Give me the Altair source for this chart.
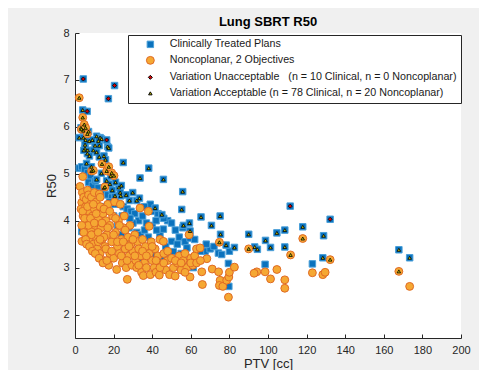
import altair as alt
import pandas as pd

# ---- data ----
clin_plain_ptv = [2.2, 3.5, 5.0, 6.5, 8.0, 7.0, 9.0, 10.5, 12.0, 11.0, 13.5, 15.0, 17.0, 19.0, 18.0, 21.0, 23.0, 25.0, 27.0, 29.0,
                  26.0, 31.0, 33.0, 35.0, 37.0, 30.0, 28.0, 32.0, 34.0, 36.0, 38.0, 40.0, 42.0, 44.0, 45.8, 48.0, 50.0, 52.0, 54.0, 50.0,
                  53.0, 57.0, 59.6, 62.0, 58.0, 63.0, 67.4, 70.0, 74.3, 76.0, 80.0, 45.0, 61.3, 79.5, 79.7, 98.5, 123.0, 22.0, 24.0, 20.0,
                  16.0, 14.0, 12.0, 5.0, 3.5, 8.0, 10.0, 6.0, 39.0, 41.0, 43.0, 36.0, 27.0, 26.0, 30.0, 34.0, 38.0, 40.0, 47.0, 49.0,
                  55.0, 56.0, 65.0, 68.0, 72.0, 42.3, 55.9, 50.9, 46.0, 20.5, 24.5, 28.5, 31.5]
clin_plain_r50 = [5.12, 5.15, 5.10, 5.02, 4.95, 4.82, 4.75, 4.85, 4.70, 4.60, 4.55, 4.60, 4.55, 4.50, 4.40, 4.45, 4.35, 4.30, 4.25, 4.20,
                  4.10, 4.15, 4.00, 4.10, 3.95, 3.95, 3.85, 3.75, 3.70, 3.80, 3.65, 3.90, 4.00, 3.70, 3.82, 4.00, 3.95, 3.80, 3.65, 3.56,
                  3.50, 3.55, 3.63, 3.60, 3.42, 3.38, 3.35, 3.40, 3.31, 3.28, 3.35, 3.20, 3.00, 3.09, 2.60, 3.07, 3.08, 3.90, 3.70, 4.10,
                  4.20, 4.30, 4.00, 3.77, 3.77, 4.40, 4.30, 4.60, 4.35, 4.20, 4.15, 4.30, 3.60, 3.40, 3.30, 3.20, 3.40, 3.25, 3.45, 3.30,
                  3.30, 3.15, 3.35, 3.50, 3.45, 3.80, 3.85, 3.34, 4.05, 4.35, 4.10, 4.05, 3.60]

clin_acc_ptv = [4.0, 3.1, 4.3, 2.2, 4.3, 5.5, 7.4, 5.2, 5.2, 6.6, 6.4, 11.2, 13.0, 13.8, 12.1, 10.4, 9.5, 11.2, 12.6, 15.0,
                16.9, 6.0, 11.2, 13.7, 16.4, 18.1, 18.5, 15.0, 22.8, 20.7, 23.7, 23.4, 25.0, 29.9, 28.2, 32.0, 33.4, 33.7, 38.2, 45.8,
                41.5, 45.0, 55.8, 55.3, 56.2, 59.3, 59.6, 65.3, 70.7, 75.2, 75.4, 78.3, 82.6, 90.0, 93.1, 94.5, 98.7, 101.3, 104.6, 108.7,
                108.7, 118.0, 128.8, 128.4, 167.8, 173.4, 7.5, 4.6, 8.5, 15.8, 17.5, 12.6, 21.0, 24.0, 19.3, 26.5, 7.0, 9.0]
clin_acc_r50 = [6.36, 5.98, 5.92, 5.77, 5.77, 5.72, 5.70, 5.62, 5.54, 5.50, 5.43, 5.80, 5.77, 5.74, 5.70, 5.60, 5.50, 5.46, 5.36, 5.38,
                5.58, 5.22, 4.88, 5.01, 4.85, 4.78, 4.95, 4.70, 4.71, 4.53, 4.53, 4.60, 5.24, 4.60, 4.43, 4.43, 4.48, 4.91, 5.12, 4.88,
                4.27, 4.13, 4.62, 4.24, 3.90, 3.95, 3.78, 4.08, 3.90, 4.10, 3.71, 3.48, 3.43, 3.71, 3.44, 3.39, 3.58, 3.43, 3.74, 3.80,
                3.44, 3.87, 3.68, 3.21, 3.38, 3.21, 5.38, 5.50, 5.15, 5.30, 5.55, 5.60, 4.82, 4.75, 4.65, 4.55, 5.90, 5.72]

clin_unacc_ptv = [4.3, 20.5, 17.3, 6.3, 16.4, 111.5, 132.2]
clin_unacc_r50 = [7.02, 6.88, 6.60, 6.33, 5.72, 4.31, 4.03]

nc_plain_ptv = [2.6, 4.0, 3.5, 3.1, 3.6, 3.8, 4.5, 4.2, 5.0, 5.5, 5.8, 6.0, 6.0, 5.5, 6.5, 7.0, 7.0, 7.2, 7.5, 8.0,
                8.2, 8.5, 9.0, 9.0, 9.5, 10.0, 10.0, 10.5, 11.0, 11.0, 11.5, 12.0, 12.0, 12.6, 13.0, 13.0, 13.5, 14.0, 14.5, 15.0,
                15.5, 16.0, 16.5, 17.0, 17.5, 18.0, 18.0, 19.0, 19.5, 20.0, 20.5, 21.0, 21.6, 22.0, 22.5, 23.0, 23.5, 24.0, 24.5, 25.0,
                25.5, 26.0, 26.5, 27.1, 27.5, 28.0, 28.5, 29.0, 29.5, 30.0, 31.0, 31.5, 32.0, 32.5, 33.0, 33.7, 34.0, 34.5, 35.0, 35.4,
                36.0, 36.5, 37.0, 38.0, 38.4, 38.5, 39.0, 39.5, 40.0, 41.0, 41.5, 42.0, 43.0, 43.7, 44.0, 45.0, 45.8, 46.0, 47.0, 48.0,
                49.0, 50.0, 51.0, 51.9, 53.0, 54.0, 55.0, 56.0, 57.0, 58.0, 59.1, 59.6, 60.0, 61.0, 62.0, 63.0, 64.8, 65.7, 66.0, 68.3,
                71.1, 74.4, 75.2, 74.8, 76.6, 78.6, 79.7, 80.0, 82.6, 79.5, 94.2, 92.8, 98.5, 101.3, 104.6, 108.7, 108.7, 123.0, 128.4, 129.6,
                173.4, 4.0, 5.0, 6.5, 7.0, 8.0, 8.5, 9.5, 10.0, 11.0, 12.0, 13.0, 14.0, 15.0, 15.0, 16.0, 17.0, 18.0, 19.0, 20.0,
                21.0, 22.0, 23.0, 24.0, 25.0, 26.0, 27.0, 28.0, 30.0, 31.0, 33.0, 35.0, 37.0, 40.0, 42.0, 44.0, 46.0, 48.0, 52.0, 55.0,
                57.0, 60.0, 63.0, 65.0, 3.5, 4.5, 5.5, 6.0, 7.5, 9.0, 10.5, 12.5, 14.5, 16.5, 13.0]
nc_plain_r50 = [4.73, 4.94, 4.39, 4.25, 3.56, 4.60, 4.50, 4.10, 3.90, 4.30, 4.45, 4.00, 3.83, 3.70, 4.65, 4.55, 3.60, 4.20, 3.95, 4.35,
                3.80, 4.50, 4.10, 3.70, 3.50, 4.60, 4.25, 3.90, 3.65, 4.40, 3.40, 4.05, 3.55, 4.57, 3.30, 4.30, 3.85, 3.60, 4.15, 3.15,
                3.45, 4.00, 3.70, 4.35, 3.05, 3.30, 3.90, 3.55, 4.10, 3.20, 4.40, 3.75, 2.96, 3.45, 4.00, 3.30, 4.35, 3.60, 3.10, 3.85,
                4.10, 3.40, 3.00, 2.75, 3.65, 3.25, 3.90, 3.50, 3.05, 3.35, 3.70, 3.15, 3.00, 3.55, 3.40, 4.27, 3.25, 2.90, 3.60, 2.83,
                3.10, 3.45, 3.00, 4.20, 3.88, 3.30, 2.85, 3.55, 3.15, 3.00, 3.40, 2.90, 3.25, 2.84, 3.60, 3.05, 3.56, 3.30, 2.95, 3.15,
                2.85, 3.20, 3.00, 2.82, 3.10, 3.25, 2.95, 3.15, 3.30, 3.00, 3.70, 2.80, 3.20, 3.05, 3.25, 3.40, 3.42, 2.91, 2.64, 3.19,
                2.97, 2.91, 2.73, 2.62, 2.60, 2.73, 2.80, 2.90, 3.01, 2.37, 2.91, 2.88, 2.91, 2.76, 2.96, 2.74, 2.56, 2.89, 2.85, 2.90,
                2.60, 4.20, 4.05, 4.30, 3.90, 4.05, 3.70, 4.35, 3.95, 4.15, 3.75, 4.50, 3.95, 4.25, 3.65, 3.40, 3.85, 4.20, 3.35, 3.70,
                4.05, 3.55, 3.90, 3.25, 3.55, 3.80, 3.15, 3.45, 3.60, 3.25, 3.05, 3.35, 3.25, 3.45, 3.15, 3.00, 3.10, 3.35, 3.15, 3.10,
                2.90, 3.10, 3.10, 3.15, 3.90, 3.75, 3.60, 3.50, 3.45, 3.35, 3.30, 3.20, 3.10, 3.15, 3.60]

nc_acc_ptv = [2.2, 4.0, 4.8, 5.5, 6.4, 3.3, 8.6, 9.5, 14.0, 16.4, 19.0, 20.2, 74.8, 90.0, 111.7, 118.0, 132.2, 167.8, 17.5, 15.5]
nc_acc_r50 = [6.62, 6.20, 6.05, 5.98, 5.85, 5.95, 5.06, 5.07, 5.21, 5.06, 5.02, 4.96, 3.54, 3.40, 3.27, 3.62, 3.17, 2.92, 5.15, 4.72]

series_names = [
    "Clinically Treated Plans",
    "Noncoplanar, 2 Objectives",
    "Variation Unacceptable\u00a0\u00a0\u00a0(n = 10 Clinical, n = 0 Noncoplanar)",
    "Variation Acceptable (n = 78 Clinical, n = 20 Noncoplanar)",
]
x_ticks = [0, 20, 40, 60, 80, 100, 120, 140, 160, 180, 200]
y_ticks = [2, 3, 4, 5, 6, 7, 8]

# ---- table ----
rows = []
for p, r in zip(clin_plain_ptv + clin_acc_ptv + clin_unacc_ptv, clin_plain_r50 + clin_acc_r50 + clin_unacc_r50):
    rows.append({"ptv": p, "r50": r, "series": series_names[0]})
for p, r in zip(nc_plain_ptv + nc_acc_ptv, nc_plain_r50 + nc_acc_r50):
    rows.append({"ptv": p, "r50": r, "series": series_names[1]})
for p, r in zip(clin_unacc_ptv, clin_unacc_r50):
    rows.append({"ptv": p, "r50": r, "series": series_names[2]})
for p, r in zip(clin_acc_ptv + nc_acc_ptv, clin_acc_r50 + nc_acc_r50):
    rows.append({"ptv": p, "r50": r, "series": series_names[3]})
df = pd.DataFrame(rows)

fills = ["#0b72bd", "#f5a833", "#d40000", "#c9c400"]
strokes = ["#4a9fd8", "#e06a25", "#000000", "#000000"]
shapes = ["square", "circle", "diamond", "triangle-up"]
sizes = [42, 62, 16, 12]
widths = [1, 1, 0.8, 0.8]

FONT = "Liberation Sans"

x_enc = alt.X("ptv:Q", scale=alt.Scale(domain=[0, 200], nice=False),
              axis=alt.Axis(values=x_ticks, title="PTV [cc]", labelPadding=10, titlePadding=2,
                            labelFlush=False))
y_enc = alt.Y("r50:Q", scale=alt.Scale(domain=[1.5, 8], nice=False),
              axis=alt.Axis(values=y_ticks, title="R50", labelPadding=10, titlePadding=4,
                            labelFlush=False))
enc = dict(
    x=x_enc, y=y_enc,
    fill=alt.Fill("series:N", scale=alt.Scale(domain=series_names, range=fills), title=None),
    stroke=alt.Stroke("series:N", scale=alt.Scale(domain=series_names, range=strokes), title=None),
    shape=alt.Shape("series:N", scale=alt.Scale(domain=series_names, range=shapes), title=None),
    size=alt.Size("series:N", scale=alt.Scale(type="ordinal", domain=series_names, range=sizes), title=None),
)

base = alt.Chart(df)
layers = []
for i, s in enumerate(series_names):
    layers.append(
        base.transform_filter(alt.datum.series == s)
        .mark_point(filled=True, opacity=1, strokeWidth=widths[i])
        .encode(**enc)
    )

chart = alt.layer(*layers).properties(
    width=386, height=305,
    title=alt.TitleParams("Lung SBRT R50", font=FONT, fontSize=13, fontWeight="bold",
                          color="#000000", anchor="middle", offset=6, dy=8),
    background="#f0f0f0",
    autosize=alt.AutoSizeParams(type="none"),
    padding={"left": 67, "top": 25, "right": 18, "bottom": 32},
).configure_view(fill="white", stroke=None).configure_axis(
    labelFont=FONT, labelFontSize=11, labelColor="#262626",
    titleFont=FONT, titleFontSize=13, titleFontWeight="normal", titleColor="#262626",
    domainColor="#262626", tickColor="#262626", grid=False,
    tickSize={"expr": "-4"},
).configure_legend(
    orient="none", legendX=53, legendY=2,
    fillColor="white", strokeColor="#262626", strokeWidth=1,
    padding=4, rowPadding=4, symbolOffset=13, labelOffset=14,
    labelFont=FONT, labelFontSize=10.7, labelColor="#1a1a1a", labelLimit=500,
    symbolStrokeWidth=1,
)

chart.save("out.html", embed_options={"renderer": "svg", "actions": False})
